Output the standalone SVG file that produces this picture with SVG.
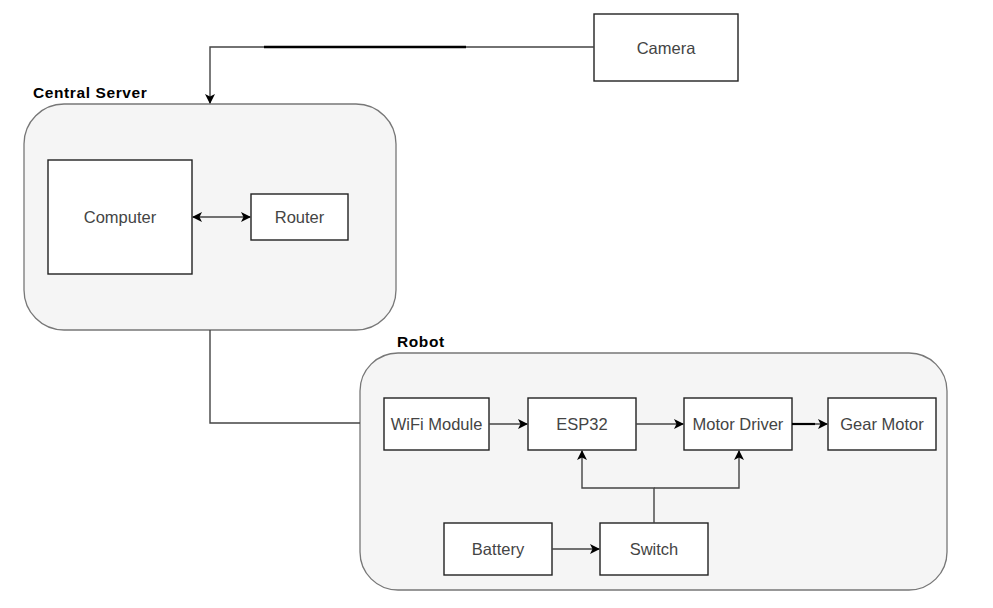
<svg xmlns="http://www.w3.org/2000/svg" width="993" height="608" viewBox="0 0 993 608">
<defs>
<marker id="ah" viewBox="0 0 10 10" refX="9" refY="5" markerWidth="10" markerHeight="10" markerUnits="userSpaceOnUse" orient="auto-start-reverse">
<path d="M0,0 L10,5 L0,10 L2.5,5 Z" fill="#000"/>
</marker>
<style>
.bg{fill:#fff}
.grp{fill:#f5f5f5;stroke:#777;stroke-width:1.3}
.box{fill:#fff;stroke:#222;stroke-width:1.4}
.t{font-family:"Liberation Sans",Arial,sans-serif;font-size:16.5px;fill:#444;text-anchor:middle;dominant-baseline:central}
.h{font-family:"Liberation Sans",Arial,sans-serif;font-size:15.5px;font-weight:bold;fill:#000;letter-spacing:0.6px}
.c{fill:none;stroke:#444;stroke-width:1.4}
</style>
</defs>
<rect class="bg" x="0" y="0" width="993" height="608"/>
<g id="central-server">
<rect class="grp" x="24" y="104" width="372" height="226" rx="40"/>
<text class="h" x="33" y="98">Central Server</text>
</g>
<g id="robot">
<rect class="grp" x="360" y="353" width="587" height="237" rx="38"/>
<text class="h" x="397" y="347">Robot</text>
</g>
<g id="camera"><rect class="box" x="594" y="14" width="144" height="67"/><text class="t" x="666" y="47.5">Camera</text></g>
<g id="computer"><rect class="box" x="48" y="160" width="144" height="114"/><text class="t" x="120" y="217">Computer</text></g>
<g id="router"><rect class="box" x="251" y="194" width="97" height="46"/><text class="t" x="299.5" y="217">Router</text></g>
<g id="wifi"><rect class="box" x="384" y="398" width="105" height="52"/><text class="t" x="436.5" y="424">WiFi Module</text></g>
<g id="esp32"><rect class="box" x="528" y="398" width="108" height="52"/><text class="t" x="582" y="424">ESP32</text></g>
<g id="motor-driver"><rect class="box" x="684" y="398" width="108" height="52"/><text class="t" x="738" y="424">Motor Driver</text></g>
<g id="gear-motor"><rect class="box" x="828" y="398" width="108" height="52"/><text class="t" x="882" y="424">Gear Motor</text></g>
<g id="battery"><rect class="box" x="444" y="523" width="108" height="52"/><text class="t" x="498" y="549">Battery</text></g>
<g id="switch"><rect class="box" x="600" y="523" width="108" height="52"/><text class="t" x="654" y="549">Switch</text></g>
<g id="connectors">
<path class="c" d="M594,47 H210 V103" marker-end="url(#ah)"/>
<path d="M264,47 H466" stroke="#000" stroke-width="2.4" fill="none"/>
<path class="c" d="M193,217 H250" marker-start="url(#ah)" marker-end="url(#ah)"/>
<path class="c" d="M210,330 V423 H360"/>
<path class="c" d="M489,424 H527" marker-end="url(#ah)"/>
<path class="c" d="M636,424 H683" marker-end="url(#ah)"/>
<path class="c" d="M792,424 H827" marker-end="url(#ah)"/>
<path d="M792,424 H815" stroke="#000" stroke-width="2.2" fill="none"/>
<path class="c" d="M552,549 H599" marker-end="url(#ah)"/>
<path class="c" d="M654,523 V488 H582 V451" marker-end="url(#ah)"/>
<path class="c" d="M654,488 H739 V451" marker-end="url(#ah)"/>
</g>
</svg>
